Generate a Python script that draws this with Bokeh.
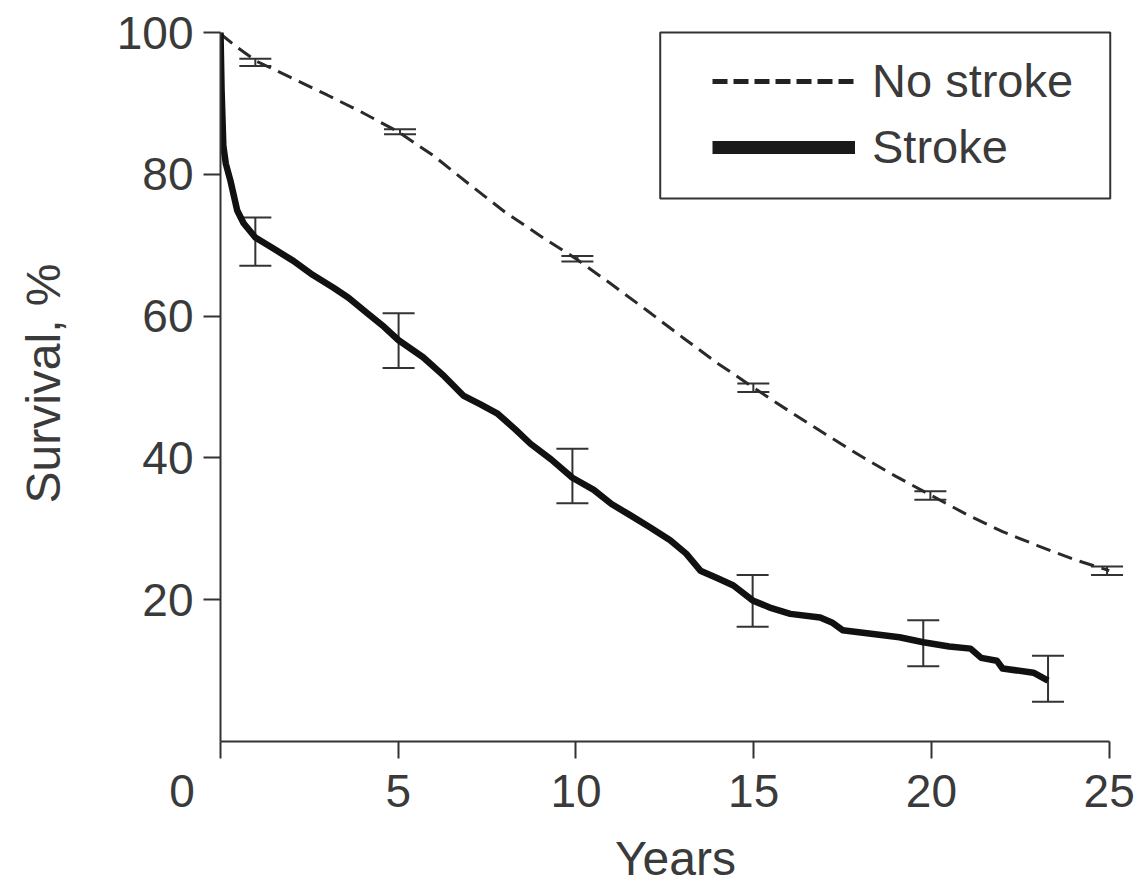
from bokeh.plotting import figure
from bokeh.models import (ColumnDataSource, Whisker, TeeHead, Legend, LegendItem,
                          Range1d, FixedTicker, BoxAnnotation)
from bokeh.embed import file_html
from bokeh.resources import INLINE

# ---------------- data ----------------
ns_t = [0, 0.5, 1, 2, 3, 4, 5, 6, 7, 8, 9, 10, 11, 12, 13, 14, 15, 16, 17, 18,
        19, 20, 21, 22, 23, 24, 25]
ns_y = [99.8, 97.8, 96.0, 93.6, 91.2, 88.7, 86.0, 82.6, 78.6, 74.7, 71.3, 68.1,
        64.5, 60.8, 57.0, 53.3, 49.9, 46.6, 43.4, 40.3, 37.4, 34.7, 32.0, 29.6,
        27.6, 25.7, 24.1]

st_t = [0, 0.03, 0.08, 0.15, 0.28, 0.47, 0.65, 0.98, 1.5, 2.05, 2.6, 3.18, 3.6,
        4.13, 4.6, 5.01, 5.7, 6.3, 6.83, 7.3, 7.78, 8.3, 8.72, 9.3, 9.9, 10.5,
        11.0, 11.5, 12.09, 12.65, 13.1, 13.5, 14.0, 14.43, 14.97, 15.5, 16.03,
        16.87, 17.2, 17.5, 18.3, 19.1, 19.77, 20.5, 21.1, 21.4, 21.84, 22.0,
        22.87, 23.28]
st_y = [100, 92, 84, 81.5, 79.1, 74.9, 73.1, 71.1, 69.5, 67.8, 65.8, 64.0, 62.6,
        60.4, 58.5, 56.6, 54.2, 51.5, 48.8, 47.6, 46.3, 44.0, 42.0, 39.8, 37.2,
        35.5, 33.5, 32.0, 30.2, 28.4, 26.5, 24.1, 23.0, 22.0, 19.9, 18.8, 18.0,
        17.5, 16.8, 15.7, 15.2, 14.7, 14.0, 13.4, 13.1, 11.8, 11.4, 10.3, 9.7,
        8.6]

ns_ci_t = [0.98, 5.05, 10.04, 14.99, 19.97, 24.94]
ns_ci_lo = [95.3, 85.65, 67.7, 49.3, 34.1, 23.5]
ns_ci_hi = [96.3, 86.35, 68.5, 50.5, 35.3, 24.7]

st_ci_t = [0.98, 5.01, 9.9, 14.97, 19.77, 23.28]
st_ci_lo = [67.1, 52.7, 33.6, 16.2, 10.6, 5.6]
st_ci_hi = [73.9, 60.4, 41.3, 23.5, 17.1, 12.1]

x_ticks = [0, 5, 10, 15, 20, 25]
y_ticks = [20, 40, 60, 80, 100]
series_names = ["No stroke", "Stroke"]
x_title = "Years"
y_title = "Survival, %"

# ---------------- styling ----------------
FONT = "Liberation Sans"
TXT = "#3a3a3a"
AX = "#333333"
NAN = float("nan")

p = figure(frame_width=910, frame_height=716, output_backend="svg",
           toolbar_location=None, x_range=Range1d(0, 25.6),
           y_range=Range1d(0, 101))
p.min_border_left = 220
p.min_border_right = 12
p.min_border_top = 25
p.min_border_bottom = 143
p.outline_line_color = None
p.grid.visible = False
p.background_fill_color = "white"
p.border_fill_color = "white"

for ax in (p.xaxis[0], p.yaxis[0]):
    ax.axis_line_color = AX
    ax.axis_line_width = 2
    ax.major_tick_line_color = AX
    ax.major_tick_line_width = 2
    ax.major_tick_out = 17
    ax.major_tick_in = 0
    ax.minor_tick_line_color = None
    ax.major_label_text_font = FONT
    ax.major_label_text_font_size = "46px"
    ax.major_label_text_color = TXT
    ax.axis_label_text_font = FONT
    ax.axis_label_text_font_size = "48px"
    ax.axis_label_text_color = TXT
    ax.axis_label_text_font_style = "normal"

p.xaxis[0].ticker = FixedTicker(ticks=x_ticks)
p.xaxis[0].bounds = (0, 25)
# origin label sits left of the corner: pad with no-break spaces
p.xaxis[0].major_label_overrides = {0: "0" + "\u00a0" * 6}
p.xaxis[0].axis_label = x_title
p.xaxis[0].major_label_standoff = 6
p.xaxis[0].axis_label_standoff = 12

p.yaxis[0].ticker = FixedTicker(ticks=y_ticks)
p.yaxis[0].bounds = (0, 100)
p.yaxis[0].axis_label = y_title
p.yaxis[0].major_label_standoff = 10
p.yaxis[0].axis_label_standoff = 44

# curves
p.line(ns_t, ns_y, line_color="#2a2a2a", line_width=3, line_dash="15 8")
p.line(st_t, st_y, line_color="#111111", line_width=6.5, line_join="round")

# error bars
for tt, lo, hi in ((ns_ci_t, ns_ci_lo, ns_ci_hi), (st_ci_t, st_ci_lo, st_ci_hi)):
    src = ColumnDataSource(dict(t=tt, lo=lo, hi=hi))
    w = Whisker(source=src, base="t", lower="lo", upper="hi",
                dimension="height", line_color=AX, line_width=2,
                upper_head=TeeHead(size=32, line_color=AX, line_width=2),
                lower_head=TeeHead(size=32, line_color=AX, line_width=2))
    p.add_layout(w)

# legend (proxy renderers with legend-specific stroke widths, draw nothing)
r_ns = p.line([NAN, NAN], [NAN, NAN], line_color="#222222", line_width=5,
              line_dash="15 6")
r_st = p.line([NAN, NAN], [NAN, NAN], line_color="#1a1a1a", line_width=13)

p.add_layout(BoxAnnotation(left=12.37, right=25.03, top=100.0, bottom=76.6,
                           fill_alpha=0, line_color=AX, line_alpha=1,
                           line_width=2))

legend = Legend(items=[LegendItem(label=series_names[0], renderers=[r_ns]),
                       LegendItem(label=series_names[1], renderers=[r_st])],
                location=(492, 567), padding=0, margin=0, spacing=11,
                glyph_width=143, glyph_height=50, label_height=50,
                label_standoff=17, label_text_font=FONT,
                label_text_font_size="47px", label_text_color=TXT,
                border_line_alpha=0, background_fill_alpha=0)
p.add_layout(legend)

open("out.html", "w").write(file_html(p, INLINE))
